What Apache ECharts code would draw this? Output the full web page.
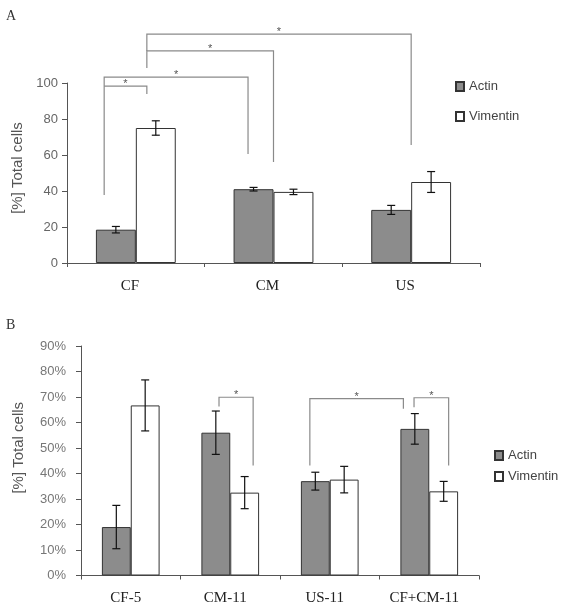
<!DOCTYPE html>
<html>
<head>
<meta charset="utf-8">
<script src="https://cdn.jsdelivr.net/npm/echarts@6/dist/echarts.min.js"></script>
<style>html,body{margin:0;padding:0;background:#fff}#c{width:572px;height:615px}</style>
</head>
<body>
<div id="c"></div>
<script>
// ---- Panel A data ----
const catsA = ['CF', 'CM', 'US'];
const actinA = [18.5, 41, 29.5];
const actinErrA = [1.8, 1, 2.5];
const vimA = [75, 39.5, 45];
const vimErrA = [4, 1.5, 5.8];
// brackets: [cat1, offset1, low1, cat2, offset2, low2, top]
const bracketsA = [
  [0, -0.23, 37.8, 1, -0.185, 60.6, 103.3],
  [0, -0.23, 98.3, 0, 0.08, 93.9, 98.3],
  [0, 0.08, 108.3, 1, 0, 56.1, 117.8],
  [0, 0.08, 117.8, 2, 0, 65.6, 127.2]
];

// ---- Panel B data ----
const catsB = ['CF-5', 'CM-11', 'US-11', 'CF+CM-11'];
const actinB = [19, 56, 37, 57.5];
const actinErrB = [8.5, 8.5, 3.5, 6];
const vimB = [66.7, 32.5, 37.6, 33];
const vimErrB = [10, 6.3, 5.2, 3.9];
const bracketsB = [
  [1, -0.113, 66.3, 1, 0.23, 43.1, 69.9],
  [2, -0.2, 43.1, 3, -0.26, 65.4, 69.4],
  [3, -0.153, 66, 3, 0.195, 43.1, 69.7]
];

const SANS = 'Liberation Sans';
const SERIF = 'Liberation Serif';
const GRAY = '#8c8c8c';
const EDGE = '#333';

function errRender(sign) {
  return function (params, api) {
    const i = api.value(0), v = api.value(1), e = api.value(2);
    const w = api.size([1, 0])[0];
    const x = api.coord([i, v])[0] + sign * w * 0.145;
    const yHi = api.coord([i, v + e])[1];
    const yLo = api.coord([i, v - e])[1];
    const cw = 4;
    const st = { stroke: '#111', lineWidth: 1.2 };
    return {
      type: 'group',
      children: [
        { type: 'line', shape: { x1: x, y1: yHi, x2: x, y2: yLo }, style: st },
        { type: 'line', shape: { x1: x - cw, y1: yHi, x2: x + cw, y2: yHi }, style: st },
        { type: 'line', shape: { x1: x - cw, y1: yLo, x2: x + cw, y2: yLo }, style: st }
      ]
    };
  };
}

function bracketRender(list) {
  return function (params, api) {
    const b = list[params.dataIndex];
    const w = api.size([1, 0])[0];
    const x1 = api.coord([b[0], 0])[0] + b[1] * w;
    const x2 = api.coord([b[3], 0])[0] + b[4] * w;
    const yTop = api.coord([0, b[6]])[1];
    const y1 = api.coord([0, b[2]])[1];
    const y2 = api.coord([0, b[5]])[1];
    return {
      type: 'group',
      children: [
        { type: 'polyline', shape: { points: [[x1, y1], [x1, yTop], [x2, yTop], [x2, y2]] },
          style: { stroke: '#8a8a8a', lineWidth: 1.2, fill: null } },
        { type: 'text', style: { text: '*', x: (x1 + x2) / 2, y: yTop - 2, align: 'center',
          verticalAlign: 'middle', fill: '#555', font: '11px ' + SANS } }
      ]
    };
  };
}

const chart = echarts.init(document.getElementById('c'));

const xAxisCommon = {
  type: 'category',
  axisLine: { lineStyle: { color: '#555', width: 1 } },
  axisTick: { show: true, length: 4, lineStyle: { color: '#555' } },
  axisLabel: { fontFamily: SERIF, fontSize: 15, color: '#222' }
};

chart.setOption({
  animation: false,
  backgroundColor: '#fff',
  graphic: [
    { type: 'text', left: 6, top: 9, style: { text: 'A', font: '14px ' + SERIF, fill: '#333' } },
    { type: 'text', left: 6, top: 318, style: { text: 'B', font: '14px ' + SERIF, fill: '#333' } }
  ],
  grid: [
    { left: 67, top: 83, width: 413, height: 180 },
    { left: 81, top: 346, width: 398, height: 229.5 }
  ],
  legend: [
    { data: ['Actin', 'Vimentin'], orient: 'vertical', left: 450, top: 75, itemGap: 17,
      itemWidth: 8, itemHeight: 9, icon: 'rect',
      textStyle: { fontFamily: SANS, fontSize: 13, color: '#444' } },
    { data: ['Actin', 'Vimentin'], orient: 'vertical', left: 489, top: 444, itemGap: 8,
      itemWidth: 8, itemHeight: 9, icon: 'rect',
      textStyle: { fontFamily: SANS, fontSize: 13, color: '#444' } }
  ],
  xAxis: [
    Object.assign({}, xAxisCommon, { gridIndex: 0, data: catsA,
      axisLabel: Object.assign({}, xAxisCommon.axisLabel, { margin: 16, padding: [0, 12, 0, 0] }) }),
    Object.assign({}, xAxisCommon, { gridIndex: 1, data: catsB,
      axisLabel: Object.assign({}, xAxisCommon.axisLabel, { margin: 15, padding: [0, 10, 0, 0] }) })
  ],
  yAxis: [
    { type: 'value', gridIndex: 0, min: 0, max: 100, interval: 20,
      name: '[%] Total cells', nameLocation: 'middle', nameGap: 37,
      nameTextStyle: { fontFamily: SANS, fontSize: 15, color: '#555', padding: [0, 0, 0, 10] },
      axisLine: { show: true, lineStyle: { color: '#555' } },
      axisTick: { show: true, length: 5, lineStyle: { color: '#555' } },
      splitLine: { show: false },
      axisLabel: { fontFamily: SANS, fontSize: 13, color: '#666', margin: 9 } },
    { type: 'value', gridIndex: 1, min: 0, max: 90, interval: 10,
      name: '[%] Total cells', nameLocation: 'middle', nameGap: 55,
      nameTextStyle: { fontFamily: SANS, fontSize: 15, color: '#555', padding: [0, 0, 0, 26] },
      axisLine: { show: true, lineStyle: { color: '#555' } },
      axisTick: { show: true, length: 5, lineStyle: { color: '#555' } },
      splitLine: { show: false },
      axisLabel: { fontFamily: SANS, fontSize: 13, color: '#777', margin: 15, formatter: '{value}%' } }
  ],
  series: [
    { name: 'Actin', type: 'bar', xAxisIndex: 0, yAxisIndex: 0, data: actinA,
      barWidth: '29%', barGap: '0%',
      itemStyle: { color: GRAY, borderColor: EDGE, borderWidth: 1 } },
    { name: 'Vimentin', type: 'bar', xAxisIndex: 0, yAxisIndex: 0, data: vimA,
      barWidth: '29%', barGap: '0%',
      itemStyle: { color: '#fff', borderColor: EDGE, borderWidth: 1 } },
    { type: 'custom', xAxisIndex: 0, yAxisIndex: 0, z: 5, clip: false,
      data: catsA.map((c, i) => [i, actinA[i], actinErrA[i]]), renderItem: errRender(-1) },
    { type: 'custom', xAxisIndex: 0, yAxisIndex: 0, z: 5, clip: false,
      data: catsA.map((c, i) => [i, vimA[i], vimErrA[i]]), renderItem: errRender(1) },
    { type: 'custom', xAxisIndex: 0, yAxisIndex: 0, z: 4, clip: false,
      data: bracketsA.map(b => [b[0], b[6]]), renderItem: bracketRender(bracketsA) },

    { name: 'Actin', type: 'bar', xAxisIndex: 1, yAxisIndex: 1, data: actinB,
      barWidth: '29%', barGap: '0%',
      itemStyle: { color: GRAY, borderColor: EDGE, borderWidth: 1 } },
    { name: 'Vimentin', type: 'bar', xAxisIndex: 1, yAxisIndex: 1, data: vimB,
      barWidth: '29%', barGap: '0%',
      itemStyle: { color: '#fff', borderColor: EDGE, borderWidth: 1 } },
    { type: 'custom', xAxisIndex: 1, yAxisIndex: 1, z: 5, clip: false,
      data: catsB.map((c, i) => [i, actinB[i], actinErrB[i]]), renderItem: errRender(-1) },
    { type: 'custom', xAxisIndex: 1, yAxisIndex: 1, z: 5, clip: false,
      data: catsB.map((c, i) => [i, vimB[i], vimErrB[i]]), renderItem: errRender(1) },
    { type: 'custom', xAxisIndex: 1, yAxisIndex: 1, z: 4, clip: false,
      data: bracketsB.map(b => [b[0], b[6]]), renderItem: bracketRender(bracketsB) }
  ]
});
</script>
</body>
</html>
